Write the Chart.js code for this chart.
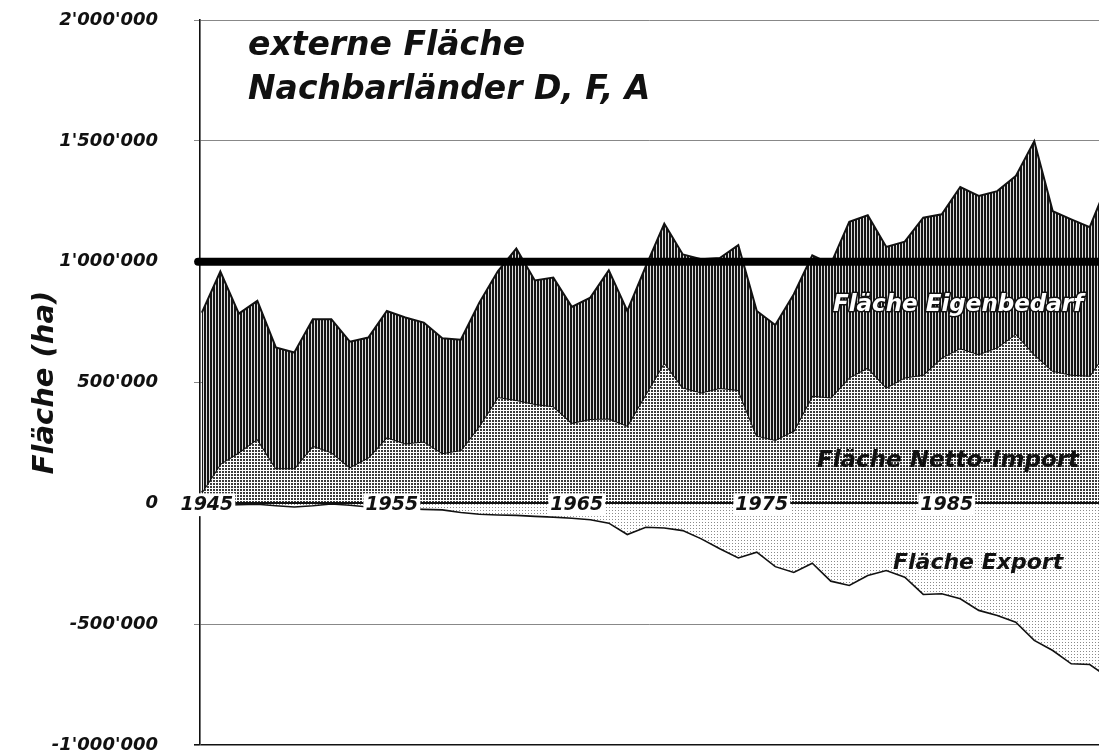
<!DOCTYPE html>
<html>
<head>
<meta charset="utf-8">
<script src="https://cdn.jsdelivr.net/npm/chart.js@4.4.1/dist/chart.umd.min.js"></script>
<style>
  html, body { margin: 0; padding: 0; background: #fff; }
  #wrap { width: 1099px; height: 756px; }
</style>
</head>
<body>
<div id="wrap"><canvas id="grafik"></canvas></div>
<script>
// ===============================
//   Daten (Fläche in ha)
// ===============================
const jahre = [
  1945, 1946, 1947, 1948, 1949, 1950, 1951, 1952, 1953, 1954,
  1955, 1956, 1957, 1958, 1959, 1960, 1961, 1962, 1963, 1964,
  1965, 1966, 1967, 1968, 1969, 1970, 1971, 1972, 1973, 1974,
  1975, 1976, 1977, 1978, 1979, 1980, 1981, 1982, 1983, 1984,
  1985, 1986, 1987, 1988, 1989, 1990, 1991, 1992, 1993, 1994
];

const nettoImport = [
   45000, 163000, 211000, 266000, 145000, 145000, 238000, 211000, 149000, 190000,
  273000, 248000, 256000, 207000, 220000, 320000, 440000, 428000, 411000, 402000,
  333000, 349000, 351000, 321000, 452000, 583000, 479000, 459000, 477000, 469000,
  280000, 262000, 300000, 445000, 438000, 521000, 562000, 479000, 521000, 532000,
  603000, 642000, 617000, 645000, 702000, 617000, 548000, 532000, 528000, 640000
];

const eigenbedarf = [
  744000, 796000, 574000, 572000, 500000, 479000, 524000, 551000, 520000, 496000,
  523000, 521000, 492000, 476000, 457000, 510000, 520000, 626000, 511000, 532000,
  480000, 502000, 613000, 475000, 528000, 574000, 551000, 551000, 538000, 599000,
  516000, 476000, 565000, 581000, 552000, 644000, 630000, 582000, 562000, 650000,
  593000, 667000, 655000, 647000, 652000, 881000, 661000, 643000, 615000, 690000
];

const flaecheExport = [
    -5000,   -8000,   -6000,   -4000,  -10000,  -15000,  -10000,   -3000,   -8000,  -15000,
   -18000,  -22000,  -25000,  -27000,  -38000,  -45000,  -48000,  -50000,  -54000,  -57000,
   -62000,  -68000,  -82000, -129000,  -99000, -102000, -113000, -147000, -188000, -226000,
  -202000, -262000, -286000, -248000, -322000, -340000, -299000, -278000, -306000, -377000,
  -374000, -395000, -443000, -464000, -492000, -567000, -609000, -664000, -667000, -720000
];

const jahrTicks = [1945, 1955, 1965, 1975, 1985];
const referenzWert = 1000000;
const referenzJahre = [1944.8, 1994];

// ===============================
//   Muster (Raster wie im Druck)
// ===============================
function muster(w, h, zeichne) {
  const c = document.createElement("canvas");
  c.width = w; c.height = h;
  const g = c.getContext("2d");
  zeichne(g);
  return g.createPattern(c, "repeat");
}

const musterEigen = muster(3, 3, g => {
  g.fillStyle = "#161616"; g.fillRect(0, 0, 3, 3);
  g.fillStyle = "#dddddd"; g.fillRect(2, 0, 1, 3);
});
const musterImport = muster(3, 3, g => {
  g.fillStyle = "#ffffff"; g.fillRect(0, 0, 3, 3);
  g.fillStyle = "#3c3c3c"; g.fillRect(0, 0, 2, 2);
});
const musterExport = muster(3, 3, g => {
  g.fillStyle = "#ffffff"; g.fillRect(0, 0, 3, 3);
  g.fillStyle = "#8a8a8a"; g.fillRect(0, 0, 1, 1);
});

const punkte = (werte) => jahre.map((j, i) => ({ x: j, y: werte[i] }));
const gesamt = nettoImport.map((v, i) => v + eigenbedarf[i]);

const fmt = (v) => String(v).replace(/\B(?=(\d{3})+(?!\d))/g, "'");

const SCHRIFT = '"DejaVu Sans", sans-serif';

// ===============================
//   Beschriftungen im Diagramm
// ===============================
const beschriftung = {
  id: "beschriftung",
  afterDraw(chart) {
    const ctx = chart.ctx;
    ctx.save();
    ctx.textAlign = "left";
    ctx.textBaseline = "alphabetic";
    ctx.fillStyle = "#111";

    ctx.font = "italic bold 33px " + SCHRIFT;
    ctx.fillText("externe Fläche", 248, 55);
    ctx.fillText("Nachbarländer D, F, A", 248, 99);

    // weiss mit Kontur
    ctx.font = "italic bold 23px " + SCHRIFT;
    ctx.lineJoin = "round";
    ctx.lineWidth = 3;
    ctx.strokeStyle = "#111";
    ctx.strokeText("Fläche Eigenbedarf", 833, 311);
    ctx.fillStyle = "#fff";
    ctx.fillText("Fläche Eigenbedarf", 833, 311);

    ctx.fillStyle = "#111";
    ctx.font = "italic bold 23px " + SCHRIFT;
    ctx.fillText("Fläche Netto-Import", 817, 467);
    ctx.font = "italic bold 22px " + SCHRIFT;
    ctx.fillText("Fläche Export", 893, 569);
    ctx.restore();
  }
};

// ===============================
//   Diagramm
// ===============================
new Chart(document.getElementById("grafik"), {
  type: "line",
  data: {
    datasets: [
      {
        label: "Fläche Netto-Import",
        data: punkte(nettoImport),
        borderColor: "#111",
        borderWidth: 2,
        backgroundColor: musterImport,
        fill: "origin",
        order: 3
      },
      {
        label: "Fläche Eigenbedarf",
        data: punkte(gesamt),
        borderColor: "#111",
        borderWidth: 2,
        backgroundColor: musterEigen,
        fill: "-1",
        order: 2
      },
      {
        label: "Fläche Export",
        data: punkte(flaecheExport),
        borderColor: "#111",
        borderWidth: 1.6,
        backgroundColor: musterExport,
        fill: "origin",
        order: 1
      },
      {
        label: "Referenz",
        data: referenzJahre.map(j => ({ x: j, y: referenzWert })),
        borderColor: "#000",
        borderWidth: 8,
        borderCapStyle: "round",
        fill: false,
        clip: { left: 10, top: 0, right: 0, bottom: 0 },
        order: 0
      }
    ]
  },
  options: {
    responsive: true,
    maintainAspectRatio: false,
    animation: false,
    events: [],
    elements: {
      point: { radius: 0 },
      line: { tension: 0 }
    },
    layout: { padding: { top: 20, right: 0, bottom: 11, left: 0 } },
    plugins: {
      legend: { display: false },
      tooltip: { enabled: false }
    },
    scales: {
      x: {
        type: "linear",
        position: { y: 0 },
        min: 1944.9,
        max: 1993.5,
        afterFit: (s) => { s.height = 0; },
        afterBuildTicks: (s) => { s.ticks = jahrTicks.map(v => ({ value: v })); },
        grid: { display: false, drawTicks: false },
        border: { display: true, color: "#111", width: 2, z: 1 },
        ticks: {
          z: 2,
          padding: -10,
          labelOffset: 5,
          maxRotation: 0,
          color: "#111",
          font: { family: SCHRIFT, size: 19, style: "italic", weight: "bold" },
          showLabelBackdrop: true,
          backdropColor: "#fff",
          backdropPadding: { x: 2, y: 0 },
          callback: (v) => String(v)
        }
      },
      y: {
        min: -1000000,
        max: 2000000,
        afterFit: (s) => { s.width = 200; s.paddingTop = 0; s.paddingBottom = 0; },
        grid: {
          color: (c) => (c.tick && (c.tick.value === -1000000 || c.tick.value === 0)) ? "#111" : "#888",
          lineWidth: (c) => (c.tick && c.tick.value === -1000000) ? 1.6 : 1,
          tickLength: 6
        },
        border: { display: true, color: "#111", width: 1.6 },
        ticks: {
          stepSize: 500000,
          padding: 36,
          color: "#111",
          font: { family: SCHRIFT, size: 18, style: "italic", weight: "bold" },
          callback: (v) => fmt(v)
        },
        title: {
          display: true,
          text: "Fläche (ha)",
          color: "#111",
          padding: { top: 28, bottom: 0 },
          font: { family: SCHRIFT, size: 29, style: "italic", weight: "bold" }
        }
      }
    }
  },
  plugins: [beschriftung]
});
</script>
</body>
</html>
